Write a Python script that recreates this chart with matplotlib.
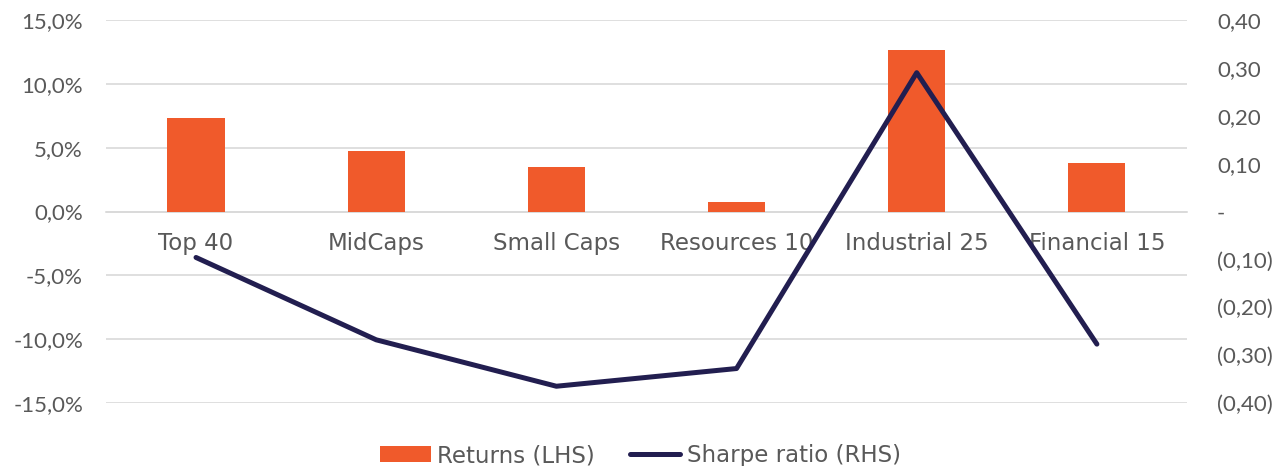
import matplotlib
matplotlib.use("Agg")
import matplotlib.pyplot as plt
from matplotlib.ticker import FuncFormatter, MultipleLocator
from matplotlib.lines import Line2D
from matplotlib.patches import Patch

categories = ["Top 40", "MidCaps", "Small Caps", "Resources 10", "Industrial 25", "Financial 15"]
returns_pct = [7.3, 4.75, 3.5, 0.75, 12.65, 3.8]
sharpe = [-0.096, -0.268, -0.365, -0.328, 0.29, -0.277]

bar_color = "#F05A2B"
line_color = "#221E50"
text_color = "#595959"
grid_color = "#D9D9D9"

plt.rcParams['font.family'] = ['Lato', 'DejaVu Sans']
fs = 16
label_font = ['DejaVu Sans']
label_fs = 16.5

fig = plt.figure(figsize=(12.81, 4.66), dpi=100)
ax = fig.add_axes([0.0827, 0.1352, 0.9266 - 0.0827, 0.957 - 0.1352])
ax2 = ax.twinx()

x = list(range(len(categories)))
ax.bar(x, returns_pct, width=0.317, color=bar_color, zorder=3)
ax.set_ylim(-15, 15)
ax.set_xlim(-0.5, len(categories) - 0.5)
ax.yaxis.set_major_locator(MultipleLocator(5))
ax.yaxis.set_major_formatter(FuncFormatter(lambda v, p: f"{v:.1f}%".replace(".", ",")))
ax.grid(axis='y', color=grid_color, linewidth=1.2, zorder=0)
ax.set_axisbelow(True)

ax.spines['bottom'].set_position(('data', 0))
ax.spines['bottom'].set_color(grid_color)
ax.spines['bottom'].set_linewidth(1.2)
for s in ['top', 'left', 'right']:
    ax.spines[s].set_visible(False)
ax.set_xticks(x)
ax.set_xticklabels(categories, family=label_font, fontsize=label_fs)
ax.tick_params(axis='x', length=0, pad=15, labelcolor=text_color)
ax.tick_params(axis='y', length=0, pad=16.5, labelsize=fs, labelcolor=text_color)

ax2.plot(x, sharpe, color=line_color, linewidth=3.6, solid_capstyle='round', solid_joinstyle='round', zorder=4)
ax2.set_ylim(-0.4, 0.4)
ax2.yaxis.set_major_locator(MultipleLocator(0.1))

def rfmt(v, p):
    if abs(v) < 1e-9:
        return "-"
    s = f"{abs(v):.2f}".replace(".", ",")
    return f"({s})" if v < 0 else s

ax2.yaxis.set_major_formatter(FuncFormatter(rfmt))
ax2.tick_params(axis='y', length=0, pad=21.6, labelsize=fs, labelcolor=text_color)
for s in ['top', 'left', 'right', 'bottom']:
    ax2.spines[s].set_visible(False)

handles = [Patch(facecolor=bar_color, edgecolor='none', label="Returns (LHS)"),
           Line2D([0], [0], color=line_color, linewidth=3.6, solid_capstyle='round', label="Sharpe ratio (RHS)")]
leg = fig.legend(handles=handles, loc='center', bbox_to_anchor=(0.5, 0.022), ncol=2, frameon=False,
                 prop={'family': label_font, 'size': label_fs}, handlelength=2.2, handletextpad=0.3,
                 columnspacing=1.5, handleheight=0.7)
for t in leg.get_texts():
    t.set_color(text_color)

fig.savefig("out.png", dpi=100)
